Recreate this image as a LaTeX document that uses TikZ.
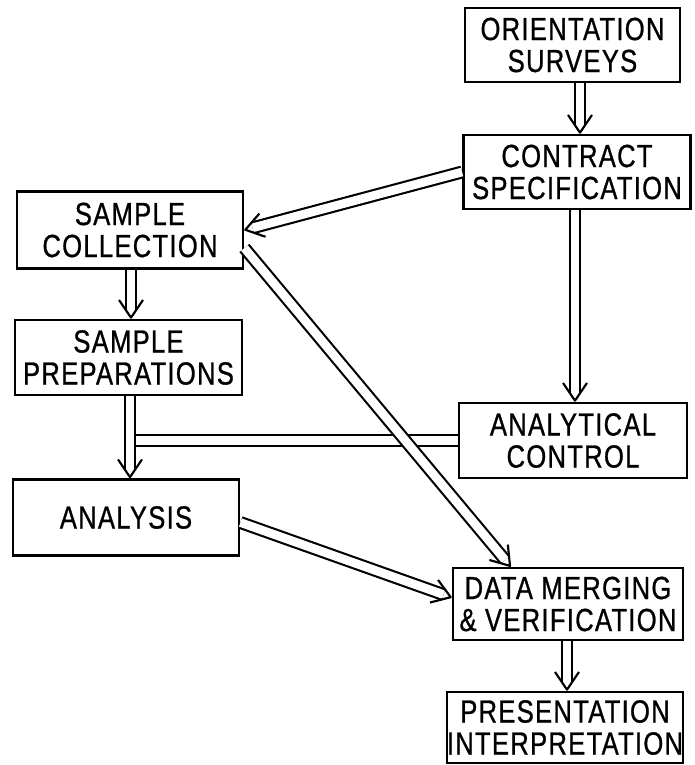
\documentclass[tikz,border=0pt]{standalone}
\usepackage{fontspec}
\setmainfont{Liberation Sans}[FakeStretch=0.8, FakeBold=0.8, LetterSpace=4]
\usetikzlibrary{arrows.meta}
\pgfdeclarearrow{
  name = DV,
  parameters = {DV},
  setup code = {
    \pgfarrowssettipend{0pt}
    \pgfarrowssetlineend{-6.4pt}
    \pgfarrowssetvisualbackend{-14pt}
    \pgfarrowssetbackend{-14pt}
    \pgfarrowsupperhullpoint{-14pt}{9pt}
    \pgfarrowsupperhullpoint{0pt}{0pt}
  },
  drawing code = {
    \pgfsetdash{}{0pt}
    \pgfsetlinewidth{1.6pt}
    \pgfsetroundjoin
    \pgfsetbuttcap
    \pgfpathmoveto{\pgfqpoint{-14pt}{9pt}}
    \pgfpathlineto{\pgfqpoint{-0.7pt}{0pt}}
    \pgfpathlineto{\pgfqpoint{-14pt}{-9pt}}
    \pgfusepathqstroke
  }
}
\newcommand\boxfont{\fontsize{24}{24}\selectfont}
\tikzset{
  box/.style={draw, line width=2.1pt, inner sep=0pt, align=center, font=\boxfont},
  sz/.style 2 args={minimum width=#1*0.75pt, minimum height=#2*0.75pt},
  pipe/.style={draw, line width=1.6pt, double, double distance=6.5pt},
  flow/.style={pipe, -DV}
}
\begin{document}
\begin{tikzpicture}[x=0.75pt, y=-0.75pt]
\useasboundingbox (0,0) rectangle (695,765);
\node[box, sz={215}{74}] (orient) at (572.5,45) {ORIENTATION\\SURVEYS};
\node[box, sz={227}{74}] (contract) at (577,172) {CONTRACT\\SPECIFICATION};
\node[box, sz={226}{77}] (scoll) at (130,230) {SAMPLE\\COLLECTION};
\node[box, sz={227}{75}] (sprep) at (128.5,357.5) {SAMPLE\\PREPARATIONS};
\node[box, sz={226}{76}] (analysis) at (126,517.5) {ANALYSIS};
\node[box, sz={228}{75}] (actrl) at (573,440.5) {ANALYTICAL\\CONTROL};
\node[box, sz={230}{72}] (dmerge) at (568,604) {DATA MERGING\\\& VERIFICATION};
\node[box, sz={236}{71}] (pres) at (565,727.5) {PRESENTATION\\INTERPRETATION};

\coordinate (c1) at (580,0);
\coordinate (c3) at (575,0);
\coordinate (c4) at (131,0);
\coordinate (cL) at (130,0);
\coordinate (c9) at (567,0);

\draw[flow] (c1 |- orient.south) -- (c1 |- contract.north);
\draw[flow] (contract.west) -- (scoll.east);
\draw[flow] (c3 |- contract.south) -- (c3 |- actrl.north);
\draw[flow] (c4 |- scoll.south) -- (c4 |- sprep.north);
\draw[pipe] (actrl.west) -- (cL |- actrl.west);
\draw[flow] (cL |- sprep.south) -- (cL |- analysis.north);
\draw[flow] ([yshift=-13.5pt]scoll.east) -- ([xshift=44.25pt]dmerge.north west);
\draw[flow] ([yshift=-3.75pt]analysis.east) -- ([yshift=4.9pt]dmerge.west);
\draw[flow] (c9 |- dmerge.south) -- (c9 |- pres.north);
\end{tikzpicture}
\end{document}
